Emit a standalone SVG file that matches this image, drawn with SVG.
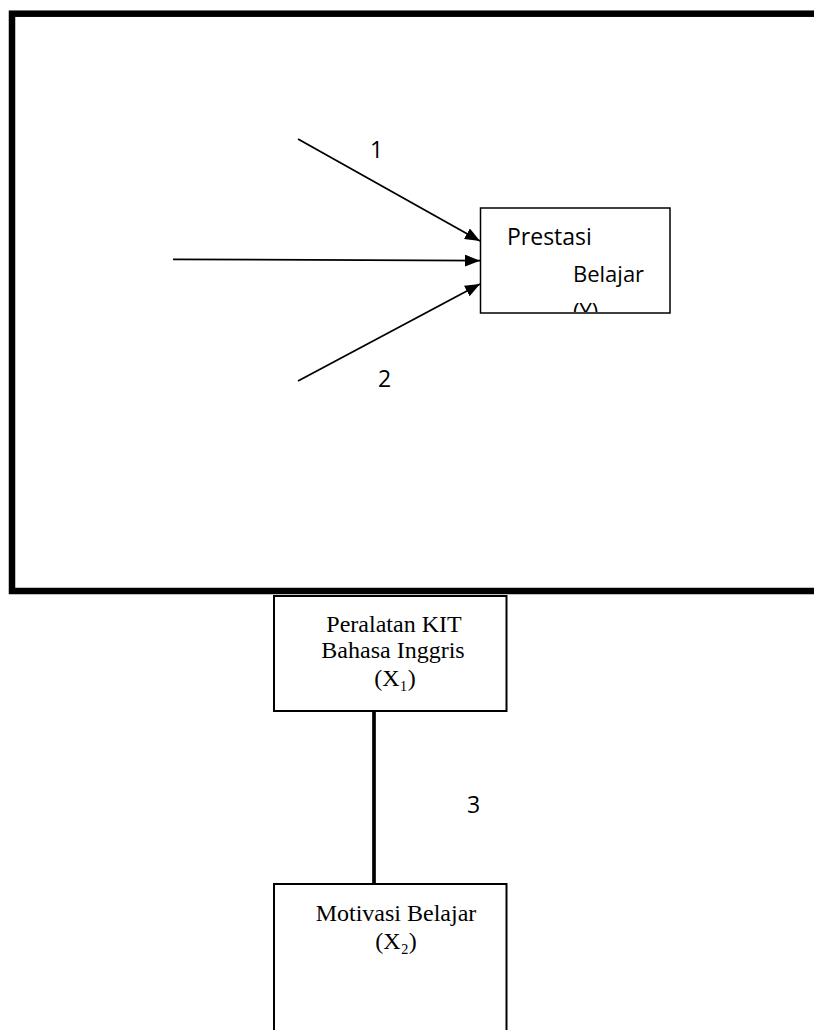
<svg xmlns="http://www.w3.org/2000/svg" width="814" height="1030" viewBox="0 0 814 1030">
<style>
.sans{font-family:"Open Sans","Noto Sans",sans-serif;fill:#000}
.serif{font-family:"Liberation Serif","Times New Roman",serif;font-size:24px;fill:#000}
.box{fill:#fff;stroke:#000}
.arrow{stroke:#000;stroke-width:1.8;fill:none}
</style>
<defs>
<marker id="ah" markerUnits="userSpaceOnUse" markerWidth="17" markerHeight="14" refX="15" refY="6" orient="auto">
<path d="M0,0 L15,6 L0,12 z" fill="#000"/>
</marker>
<clipPath id="clipY"><rect x="481" y="209" width="188" height="103"/></clipPath>
</defs>
<rect width="814" height="1030" fill="#fff"/>
<g id="frame">
<rect x="12" y="13.7" width="830" height="577.3" fill="none" stroke="#000" stroke-width="6.5"/>
</g>
<g id="connectors">
<line class="arrow" x1="298" y1="139" x2="480" y2="241" marker-end="url(#ah)"/>
<line class="arrow" x1="173" y1="259.3" x2="480" y2="260.7" marker-end="url(#ah)"/>
<line class="arrow" x1="298" y1="381" x2="480" y2="284" marker-end="url(#ah)"/>
<line x1="374" y1="711" x2="374" y2="884" stroke="#000" stroke-width="3.7"/>
</g>
<g id="labels">
<text class="sans" x="370" y="158" font-size="23">1</text>
<text class="sans" x="378" y="387" font-size="23">2</text>
<text class="sans" x="467" y="813" font-size="23">3</text>
</g>
<g id="node-y">
<rect class="box" x="480.5" y="208" width="189.5" height="105" stroke-width="1.5"/>
<g clip-path="url(#clipY)">
<text class="sans" x="507" y="245" font-size="23">Prestasi</text>
<text class="sans" x="573" y="282" font-size="22">Belajar</text>
<text class="sans" x="573" y="319" font-size="22">(Y)</text>
</g>
</g>
<g id="node-x1">
<rect class="box" x="274" y="596" width="232.5" height="115" stroke-width="2"/>
<text class="serif" x="394" y="631.5" text-anchor="middle">Peralatan KIT</text>
<text class="serif" x="393" y="658" text-anchor="middle">Bahasa Inggris</text>
<text class="serif" x="395" y="686" text-anchor="middle">(X₁)</text>
</g>
<g id="node-x2">
<rect class="box" x="274" y="884" width="232.5" height="160" stroke-width="2"/>
<text class="serif" x="396" y="921" text-anchor="middle">Motivasi Belajar</text>
<text class="serif" x="396" y="949" text-anchor="middle">(X₂)</text>
</g>
</svg>
